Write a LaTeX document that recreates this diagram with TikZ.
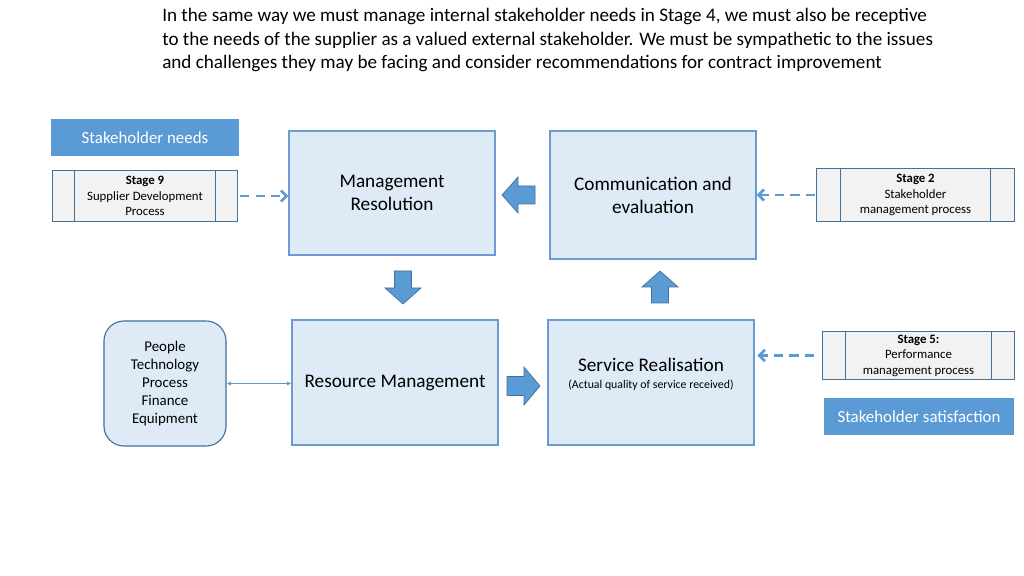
\documentclass[tikz,border=0pt]{standalone}
\usepackage{fontspec}
\setmainfont{Carlito}
\usetikzlibrary{arrows.meta,positioning}

\definecolor{darkblue}{HTML}{5B9BD5}
\definecolor{edgeblue}{HTML}{41719C}
\definecolor{paleblue}{HTML}{DEEBF7}
\definecolor{boxedge}{HTML}{6C9BD2}
\definecolor{stagegray}{HTML}{F2F2F2}

\begin{document}
\begin{tikzpicture}[x=0.025cm, y=-0.025cm,
        mainbox/.style={draw=boxedge, fill=paleblue, line width=0.8pt,
        minimum width=5.15cm, align=center, font=\fontsize{13.7}{16.3}\selectfont},
        stagebox/.style={draw=edgeblue, fill=stagegray, line width=0.7pt,
        inner sep=0pt, align=center, font=\fontsize{9.1}{11}\selectfont},
        tagbox/.style={fill=darkblue, inner sep=0pt, text=white,
        font=\fontsize{12}{14}\selectfont},
        dasharr/.style={darkblue, line width=1.9pt, dash pattern=on 6.5pt off 4.5pt,
        -{Straight Barb[length=4pt,width=8pt]}},
        blockarr/.style={fill=darkblue, draw=edgeblue, line width=0.5pt}
        ]
    \useasboundingbox (0,0) rectangle (1024,576);

    % intro text
    \node[anchor=north west, inner sep=0pt, align=left,
        font=\fontsize{13.6}{16.8}\selectfont] (intro) at (162,8)
        {In the same way we must manage internal stakeholder needs in Stage 4, we must also be receptive\\
        to the needs of the supplier as a valued external stakeholder. We must be sympathetic to the issues\\
        and challenges they may be facing and consider recommendations for contract improvement};

    % main boxes
    \node[mainbox, minimum height=3.1cm] (mres) at (392,193) {Management\\Resolution};
    \node[mainbox, minimum height=3.2cm] (comm) at (653,195) {Communication and\\evaluation};
    \node[mainbox, minimum height=3.125cm] (res) at (395,382.5) {Resource Management};
    \node[mainbox, minimum height=3.125cm] (serv) at (651,382.5) {};
    \node[align=center, font=\fontsize{13.7}{16.3}\selectfont] (servtxt) at (651,374)
        {Service Realisation\\[-4pt]{\fontsize{8.4}{9.5}\selectfont (Actual quality of service received)}};
    \node[draw=edgeblue, fill=paleblue, line width=0.8pt, rounded corners=0.5cm,
        minimum width=3.05cm, minimum height=3.125cm, align=center,
        font=\fontsize{10.6}{12.8}\selectfont] (ppl) at (165,383.5)
        {People\\Technology\\Process\\Finance\\Equipment};

    % blue labels
    \node[tagbox, minimum width=4.7cm, minimum height=0.925cm] (needs) at (145,137.5) {Stakeholder needs};
    \node[tagbox, minimum width=4.75cm, minimum height=0.925cm] (satis) at (919,416.5) {Stakeholder satisfaction};

    % stage boxes
    \node[stagebox, minimum width=4.6cm, minimum height=1.275cm] (s9) at (145,196)
        {\textbf{Stage 9}\\Supplier Development\\Process};
    \node[stagebox, minimum width=4.925cm, minimum height=1.325cm] (s2) at (915.5,195)
        {\textbf{Stage 2}\\Stakeholder\\management process};
    \node[stagebox, minimum width=4.775cm, minimum height=1.2cm] (s5) at (918.5,355.5)
        {\textbf{Stage 5:}\\Performance\\management process};
    \draw[edgeblue, line width=0.7pt] ([xshift=0.55cm]s9.north west) -- ([xshift=0.55cm]s9.south west);
    \draw[edgeblue, line width=0.7pt] ([xshift=-0.55cm]s9.north east) -- ([xshift=-0.55cm]s9.south east);
    \draw[edgeblue, line width=0.7pt] ([xshift=0.6cm]s2.north west) -- ([xshift=0.6cm]s2.south west);
    \draw[edgeblue, line width=0.7pt] ([xshift=-0.6cm]s2.north east) -- ([xshift=-0.6cm]s2.south east);
    \draw[edgeblue, line width=0.7pt] ([xshift=0.575cm]s5.north west) -- ([xshift=0.575cm]s5.south west);
    \draw[edgeblue, line width=0.7pt] ([xshift=-0.575cm]s5.north east) -- ([xshift=-0.575cm]s5.south east);

    % dashed links
    \draw[dasharr, shorten <=2pt] (s9.east) -- (s9.east -| mres.west);
    \draw[dasharr, shorten <=1pt] (s2.west) -- (s2.west -| comm.east);
    \draw[dasharr, shorten <=6pt, shorten >=2pt] (s5.west) -- (s5.west -| serv.east);
    \draw[darkblue, line width=0.6pt, {Latex[length=3pt,width=3pt]}-{Latex[length=3pt,width=3pt]}]
        (ppl.east) -- (ppl.east -| res.west);

    % block arrows
    \draw[blockarr] (502,195) -- (518,177) -- (518,186) -- (535,186) -- (535,204)
        -- (518,204) -- (518,213) -- cycle;
    \draw[blockarr] (403,304) -- (385,288) -- (394.5,288) -- (394.5,271) -- (411.5,271)
        -- (411.5,288) -- (421,288) -- cycle;
    \draw[blockarr] (660,271) -- (678,287) -- (668.5,287) -- (668.5,303) -- (651.5,303)
        -- (651.5,287) -- (642,287) -- cycle;
    \draw[blockarr] (540,386) -- (524,367) -- (524,376.5) -- (507,376.5) -- (507,395.5)
        -- (524,395.5) -- (524,405) -- cycle;
\end{tikzpicture}
\end{document}
